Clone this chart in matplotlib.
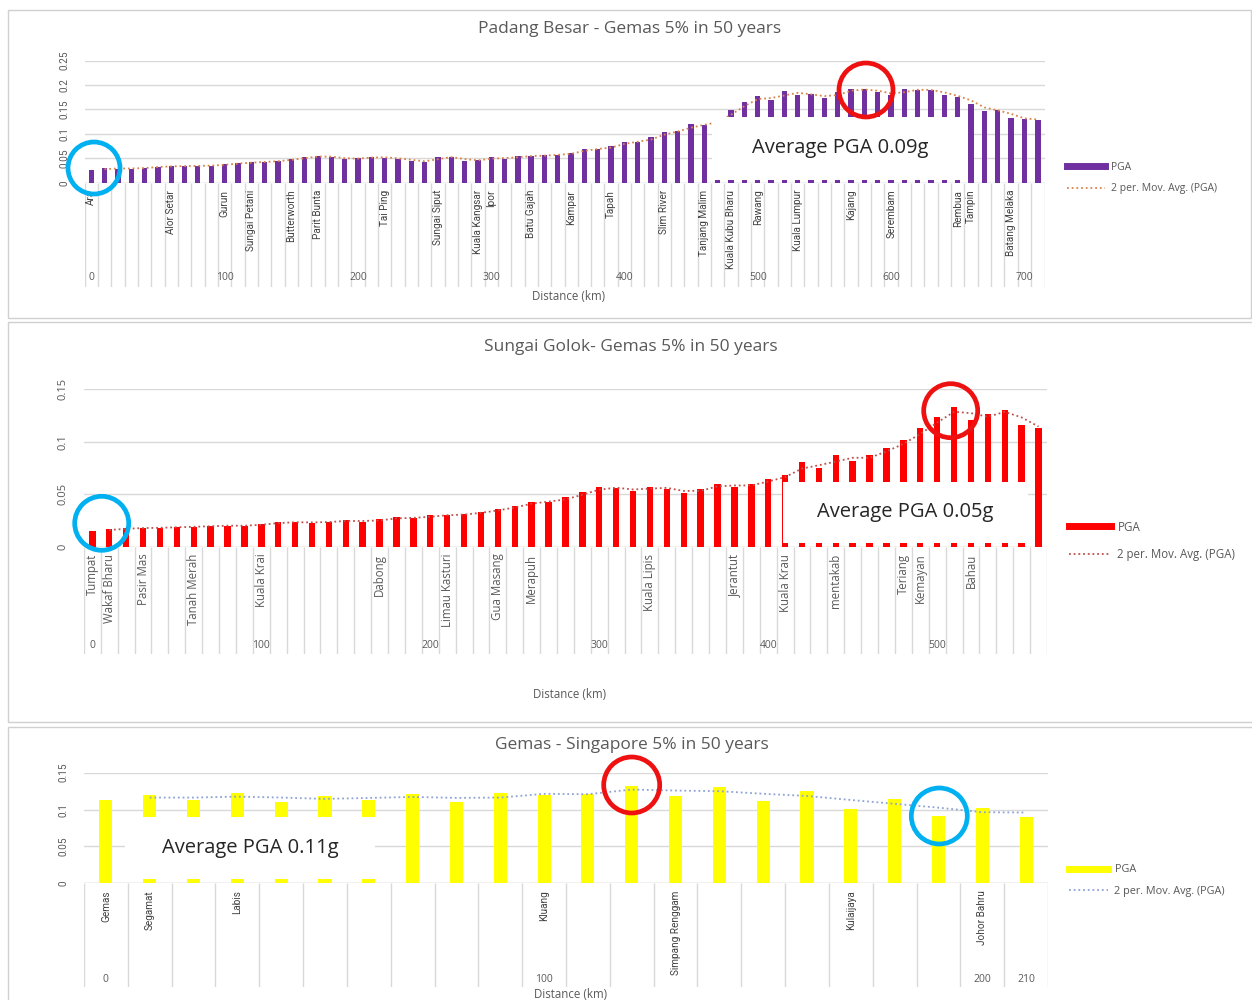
import numpy as np
import matplotlib
matplotlib.use("Agg")
from matplotlib import pyplot as plt
from matplotlib import font_manager
from matplotlib.lines import Line2D
from matplotlib.patches import Rectangle, Ellipse

W, H = 1252, 1000

# ---- Padang Besar - Gemas (10 km per category) ----
pb_pga = [0.026, 0.0295, 0.029, 0.029, 0.031, 0.033, 0.034, 0.034, 0.035, 0.035,
          0.038, 0.040, 0.042, 0.043, 0.045, 0.0485, 0.052, 0.055, 0.052, 0.0485,
          0.050, 0.053, 0.051, 0.049, 0.045, 0.043, 0.053, 0.052, 0.045, 0.0465,
          0.052, 0.049, 0.055, 0.054, 0.057, 0.057, 0.0615, 0.069, 0.069, 0.075,
          0.084, 0.084, 0.093, 0.104, 0.106, 0.1195, 0.118, 0.130, 0.149, 0.165,
          0.178, 0.169, 0.1885, 0.180, 0.182, 0.173, 0.186, 0.191, 0.191, 0.186,
          0.180, 0.191, 0.190, 0.190, 0.180, 0.176, 0.161, 0.1475, 0.149, 0.133,
          0.1305, 0.1285]
pb_station_pos = [0, 6, 10, 12, 15, 17, 22, 26, 29, 30, 33, 36, 39, 43, 46, 48,
                  50, 53, 57, 60, 65, 66, 69]
pb_station_names = ["Ara", "Alor Setar", "Gurun", "Sungai Petani", "Butterworth",
                    "Parit Bunta", "Tai Ping", "Sungai Siput", "Kuala Kangsar", "Ipor",
                    "Batu Gajah", "Kampar", "Tapah", "Slim River", "Tanjang Malim",
                    "Kuala Kubu Bharu", "Rawang", "Kuala Lumpur", "Kajang", "Serembam",
                    "Rembua", "Tampin", "Batang Melaka"]
pb_km_pos = [0, 10, 20, 30, 40, 50, 60, 70]
pb_km_labels = ["0", "100", "200", "300", "400", "500", "600", "700"]

# ---- Sungai Golok - Gemas ----
sg_pga = [0.0153, 0.0166, 0.0175, 0.018, 0.018, 0.019, 0.019, 0.020, 0.020, 0.020,
          0.0217, 0.0233, 0.0233, 0.023, 0.024, 0.025, 0.024, 0.026, 0.028, 0.027,
          0.030, 0.030, 0.0312, 0.0334, 0.0357, 0.039, 0.043, 0.043, 0.047, 0.052,
          0.0567, 0.0557, 0.0534, 0.0573, 0.0548, 0.0515, 0.055, 0.060, 0.0567, 0.060,
          0.0643, 0.0684, 0.0805, 0.0748, 0.0875, 0.082, 0.0875, 0.094, 0.102, 0.113,
          0.1235, 0.1336, 0.121, 0.1266, 0.1304, 0.116, 0.113]
sg_station_pos = [0, 1, 3, 6, 10, 17, 21, 24, 26, 33, 38, 41, 44, 48, 49, 52]
sg_station_names = ["Tumpat", "Wakaf Bharu", "Pasir Mas", "Tanah Merah", "Kuala Krai",
                    "Dabong", "Limau Kasturi", "Gua Masang", "Merapuh", "Kuala Lipis",
                    "Jerantut", "Kuala Krau", "mentakab", "Teriang", "Kemayan", "Bahau"]
sg_km_pos = [0, 10, 20, 30, 40, 50]
sg_km_labels = ["0", "100", "200", "300", "400", "500"]

# ---- Gemas - Singapore ----
gs_pga = [0.1125, 0.120, 0.1125, 0.1226, 0.110, 0.119, 0.1125, 0.1217, 0.110, 0.1226,
          0.120, 0.1217, 0.1326, 0.119, 0.1308, 0.1121, 0.1248, 0.1012, 0.1144, 0.0908,
          0.102, 0.090]
gs_station_pos = [0, 1, 3, 10, 13, 17, 20]
gs_station_names = ["Gemas", "Segamat", "Labis", "Kluang", "Simpang Renggam",
                    "Kulaijaya", "Johor Bahru"]
gs_km_pos = [0, 10, 20, 21]
gs_km_labels = ["0", "100", "200", "210"]

_names = {f.name for f in font_manager.fontManager.ttflist}
SANS = "Open Sans" if "Open Sans" in _names else "DejaVu Sans"
if "Liberation Sans Narrow" in _names:
    NARROW = "Liberation Sans Narrow"
elif "Roboto" in _names:
    NARROW = "Roboto"
else:
    NARROW = "DejaVu Sans"
GREY = "#595959"
GRID = "#d9d9d9"

fig = plt.figure(figsize=(W / 100, H / 100), dpi=100)
fig.patch.set_facecolor("white")


def px_axes(x0, y0, x1, y1):
    return fig.add_axes([x0 / W, 1 - y1 / H, (x1 - x0) / W, (y1 - y0) / H])


def fx(x):
    return x / W


def fy(y):
    return 1 - y / H


def panel(pga, st_pos, st_names, km_pos, km_labels, title, bar_color, ma_color,
          x0, x1, y_top, y_base, y_cat, ymax, bar_w, st_font, st_size, st_color,
          tick_font, tick_size, km_y, dist_y, title_xy, leg_x, leg_y, leg_size,
          leg_spacing):
    n = len(pga)
    x = np.arange(n)
    ax = px_axes(x0, y_top, x1, y_base)
    ax.bar(x, pga, width=bar_w, color=bar_color, zorder=3)
    # Excel style 2 period moving average trendline
    ma = np.convolve(pga, [0.5, 0.5], mode="valid")
    ma_line, = ax.plot(x[1:], ma, color=ma_color, lw=1.3, ls=(0, (1, 1.6)), zorder=4)
    ax.set_xlim(-0.5, n - 0.5)
    ax.set_ylim(0, ymax)
    yt = np.arange(0, ymax + 1e-9, 0.05)
    ax.set_yticks(yt)
    ax.set_yticklabels([f"{v:g}" for v in yt], rotation=90, va="center",
                       fontsize=tick_size, family=tick_font, color=GREY)
    ax.tick_params(axis="y", length=0, pad=11)
    ax.set_xticks([])
    ax.grid(axis="y", color=GRID, lw=1, zorder=0)
    for s in ax.spines.values():
        s.set_visible(False)
    ax.axhline(0, color=GRID, lw=1, zorder=2)
    ax.patch.set_alpha(0)

    # multi-level category axis
    cax = px_axes(x0, y_base, x1, y_cat)
    cax.set_xlim(-0.5, n - 0.5)
    cax.set_ylim(1, 0)
    cax.axis("off")
    cax.vlines(np.arange(n + 1) - 0.5, 0, 1, color=GRID, lw=1)
    off = 7 / (y_cat - y_base)
    for p, name in zip(st_pos, st_names):
        cax.text(p, off, name, rotation=90, ha="center", va="top",
                 fontsize=st_size, family=st_font, color=st_color)
    ky = (km_y - y_base) / (y_cat - y_base)
    for p, lab in zip(km_pos, km_labels):
        cax.text(p, ky, lab, ha="center", va="center", fontsize=7.5,
                 family=SANS, color=GREY)

    fig.text(fx((x0 + x1) / 2 + 4), fy(dist_y), "Distance (km)", ha="center",
             va="center", fontsize=8.3, family=SANS, color=GREY)
    fig.text(fx(title_xy[0]), fy(title_xy[1]), title, ha="center", va="center",
             fontsize=12.5, family=SANS, color=GREY)

    handles = [Line2D([], [], color=bar_color, lw=5), ma_line]
    ax.legend(handles, ["PGA", "2 per. Mov. Avg. (PGA)"], loc="center left",
              bbox_to_anchor=(fx(leg_x), fy(leg_y)), bbox_transform=fig.transFigure,
              frameon=False, borderpad=0, borderaxespad=0, handlelength=3.6,
              handletextpad=0.6, labelspacing=leg_spacing,
              labelcolor=GREY, prop={"family": SANS, "size": leg_size})
    return ax


def frame(x0, y0, x1, y1):
    fig.add_artist(Rectangle((fx(x0), fy(y1)), fx(x1 - x0), (y1 - y0) / H,
                             transform=fig.transFigure, fill=False,
                             edgecolor="#d0d0d0", lw=1, zorder=1))


def note(x0, y0, x1, y1, text):
    fig.add_artist(Rectangle((fx(x0), fy(y1)), fx(x1 - x0), (y1 - y0) / H,
                             transform=fig.transFigure, facecolor="white",
                             edgecolor="none", zorder=5))
    fig.text(fx((x0 + x1) / 2), fy((y0 + y1) / 2), text, ha="center", va="center",
             fontsize=14.5, family=SANS, color="#262626", zorder=6)


def ring(cx, cy, r, color):
    fig.add_artist(Ellipse((fx(cx), fy(cy)), 2 * r / W, 2 * r / H,
                           transform=fig.transFigure, fill=False, edgecolor=color,
                           lw=3.4, zorder=7))


frame(7.5, 9.5, 1250.5, 318)
frame(7.5, 322, 1253, 722)
frame(7.5, 727, 1253, 1010)

panel(pb_pga, pb_station_pos, pb_station_names, pb_km_pos, pb_km_labels,
      "Padang Besar - Gemas 5% in 50 years", "#7030a0", "#d9844a",
      84.5, 1044.5, 60.7, 182.7, 287, 0.25, 0.4, NARROW, 7.2, "#404040",
      NARROW, 7.2, 278, 297, (630, 29), 1067, 178, 7.5, 1.05)
panel(sg_pga, sg_station_pos, sg_station_names, sg_km_pos, sg_km_labels,
      "Sungai Golok- Gemas 5% in 50 years", "#ff0000", "#c0504d",
      83.9, 1047, 389.3, 546.7, 654, 0.15, 0.38, SANS, 8.3, GREY,
      SANS, 8, 645, 695, (631, 347), 1069, 541, 8.3, 1.3)
panel(gs_pga, gs_station_pos, gs_station_names, gs_km_pos, gs_km_labels,
      "Gemas - Singapore 5% in 50 years", "#ffff00", "#8fa2d4",
      84, 1048, 772.7, 883.3, 987, 0.15, 0.3, NARROW, 7.2, "#404040",
      NARROW, 7.2, 980, 995, (632, 745), 1069, 880.5, 7.8, 0.95)

note(712, 117.5, 968, 179.5, "Average PGA 0.09g")
note(783, 481.7, 1028, 542.7, "Average PGA 0.05g")
note(125, 817, 375, 879, "Average PGA 0.11g")

ring(866, 90, 27, "#ee1111")
ring(94, 168, 26, "#00b0f0")
ring(950.7, 410.7, 27, "#ee1111")
ring(101.7, 523.3, 27, "#00b0f0")
ring(631.7, 785, 28, "#ee1111")
ring(939.3, 816, 28, "#00b0f0")

fig.savefig("out.png", dpi=100, facecolor="white")
